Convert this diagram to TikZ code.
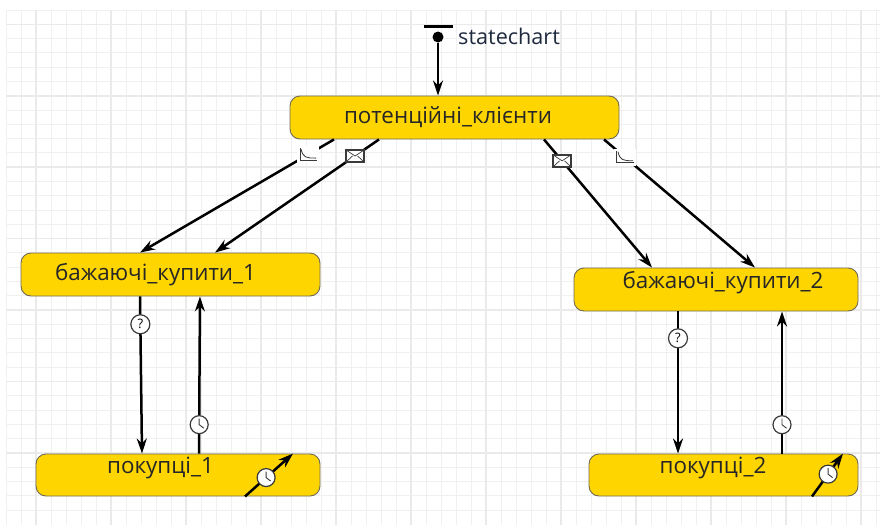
\documentclass[tikz,border=0pt]{standalone}
\usepackage{fontspec}
\setmainfont{Open Sans}
\usetikzlibrary{arrows.meta}
\definecolor{stategold}{HTML}{FFD500}
\definecolor{stateline}{HTML}{6E6A55}
\definecolor{iconline}{HTML}{3A3A3A}
\definecolor{chartink}{HTML}{1F2A3F}
\definecolor{gridminor}{HTML}{F0F0F0}
\definecolor{gridmajor}{HTML}{EAEAEA}
\tikzset{state node/.style={rectangle,rounded corners=10pt,fill=stategold,draw=stateline,line width=.9pt,inner sep=0pt},}
\tikzset{state text/.style={font=\fontsize{22.4}{24}\selectfont,text=black!85,inner sep=0pt},}
\tikzset{transition/.style={every edge/.append style={draw,line width=2.5pt,-{Stealth[length=15pt,width=10pt]}}},}
\tikzset{clock icon/.style={circle,fill=white,draw=iconline,line width=1.2pt,minimum size=18pt,inner sep=0pt,
  path picture={\draw[-,iconline,line width=.9pt] (path picture bounding box.center)++(0,6pt) -- (path picture bounding box.center) -- ++(4.5pt,-3.5pt);}},}
\tikzset{ask icon/.style={circle,fill=white,draw=iconline,line width=1.2pt,minimum size=19pt,inner sep=0pt,font=\fontsize{13}{13}\selectfont},}
\tikzset{mail icon/.style={rectangle,fill=white,draw=iconline,line width=1.4pt,minimum width=18pt,minimum height=12pt,inner sep=0pt,
  path picture={\draw[-,iconline,line width=.7pt] (path picture bounding box.north west) -- (path picture bounding box.center) -- (path picture bounding box.north east)
    (path picture bounding box.south west) -- ++(6.5pt,6pt) (path picture bounding box.south east) -- ++(-6.5pt,6pt);}},}
\tikzset{rate icon/.style={rectangle,fill=white,minimum width=22pt,minimum height=17pt,inner sep=0pt,
  path picture={\draw[-,iconline,line width=1pt] ([shift={(3pt,-2pt)}]path picture bounding box.north west) -- ([shift={(3pt,3pt)}]path picture bounding box.south west) -- ([shift={(-2pt,3pt)}]path picture bounding box.south east);
    \draw[-,iconline,line width=.8pt] ([shift={(4pt,-3pt)}]path picture bounding box.north west) .. controls ([shift={(6pt,-3pt)}]path picture bounding box.west) and ([shift={(9pt,5pt)}]path picture bounding box.south west) .. ([shift={(-3pt,5pt)}]path picture bounding box.south east);}},}

\begin{document}
\begin{tikzpicture}[x=1pt,y=-1pt]
  \useasboundingbox[fill=white] (0,0) rectangle (880,525);
  %% Grid
  \foreach \gx in {6,21,...,876} \draw[gridminor,line width=1pt] (\gx,10) -- (\gx,525);
  \foreach \gy in {0,...,35} \draw[gridminor,line width=1pt] (6,10+14.29*\gy) -- (880,10+14.29*\gy);
  \foreach \gx in {36,111,...,861} \draw[gridmajor,line width=1.5pt] (\gx,10) -- (\gx,525);
  \foreach \gy in {0,...,6} \draw[gridmajor,line width=1.5pt] (6,24.3+71.45*\gy) -- (880,24.3+71.45*\gy);
  %% Nodes
  \node[state node,minimum width=329pt,minimum height=43pt,label={[state text,xshift=-6.5pt,yshift=0pt]center:потенційні\_клієнти}] (potential) at (454.5,117.5) {};
  \node[state node,minimum width=299pt,minimum height=43pt,label={[state text,xshift=-15pt,yshift=0pt]center:бажаючі\_купити\_1}] (want1) at (170.5,274.5) {};
  \node[state node,minimum width=284pt,minimum height=43pt,label={[state text,xshift=7pt,yshift=7pt]center:бажаючі\_купити\_2}] (want2) at (716,289.5) {};
  \node[state node,minimum width=284pt,minimum height=42pt,label={[state text,xshift=-17.5pt,yshift=7.5pt]center:покупці\_1}] (buyer1) at (178,475) {};
  \node[state node,minimum width=269pt,minimum height=42pt,label={[state text,xshift=-10.5pt,yshift=7pt]center:покупці\_2}] (buyer2) at (723.5,475) {};
  \node[fill=black,circle,minimum size=11pt,inner sep=0pt] (start) at (438,37) {};
  \node[minimum width=29pt,minimum height=3pt,fill=black,inner sep=0pt] (startbar) at (438.5,26) {};
  \node[anchor=west,inner sep=0pt,font=\fontsize{21.6}{23}\selectfont,text=chartink] (chartname) at (458,36.5) {statechart};
  %% Paths
  \path[transition]
    (start) edge (potential.north -| start)
    ([xshift=-120.5pt]potential.south) edge node[rate icon,pos=.134] (rate1) {} ([xshift=-30.5pt]want1.north)
    ([xshift=-75.5pt]potential.south) edge node[mail icon,pos=.146] (mail1) {} ([xshift=44.5pt]want1.north)
    ([xshift=89.5pt]potential.south) edge node[mail icon,pos=.167] (mail2) {} ([xshift=-64pt]want2.north)
    ([xshift=149.5pt]potential.south) edge node[rate icon,pos=.139] (rate2) {} ([xshift=39pt]want2.north)
    ([xshift=-30.5pt]want1.south) edge node[ask icon,pos=.177] (ask1) {?} ([xshift=-36pt]buyer1.north)
    ([xshift=21pt]buyer1.north) edge node[clock icon,pos=.184] (clock1) {} ([xshift=29.5pt]want1.south)
    ([xshift=-38pt]want2.south) edge node[ask icon,pos=.189] (ask2) {?} ([xshift=-45.5pt]buyer2.north)
    ([xshift=58.5pt]buyer2.north) edge node[clock icon,pos=.203] (clock2) {} ([xshift=66pt]want2.south)
    ([xshift=67pt]buyer1.south) edge node[clock icon,pos=.44] (clock3) {} ([xshift=115pt]buyer1.north)
    ([xshift=88.5pt]buyer2.south) edge node[clock icon,pos=.52] (clock4) {} ([xshift=119.5pt]buyer2.north);
\end{tikzpicture}
\end{document}
